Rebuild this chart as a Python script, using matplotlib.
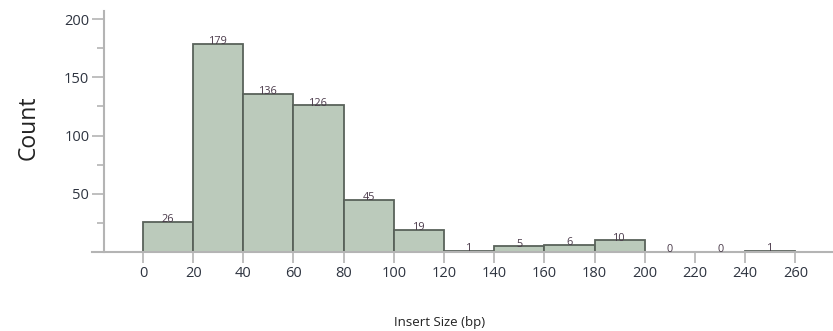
import numpy as np
import matplotlib
matplotlib.use("Agg")
from matplotlib import pyplot as plt
from matplotlib.ticker import MultipleLocator

# insert size histogram, 20 bp bins
bin_edges = [0, 20, 40, 60, 80, 100, 120, 140, 160, 180, 200, 220, 240, 260]
counts = [26, 179, 136, 126, 45, 19, 1, 5, 6, 10, 0, 0, 1]
xticks = [0, 20, 40, 60, 80, 100, 120, 140, 160, 180, 200, 220, 240, 260]
yticks = [50, 100, 150, 200]

plt.rcParams['font.family'] = ['Open Sans', 'DejaVu Sans']

fig = plt.figure(figsize=(8.33, 3.31), dpi=100)
ax = fig.add_axes([92/833, 79/331, 1 - 92/833, 241/331])

left = np.array(bin_edges[:-1])
widths = np.diff(bin_edges)
bars = ax.bar(left, counts, width=widths, align='edge',
              color='#bbcabb', edgecolor='#59625a', linewidth=1.3, zorder=2)

for x0, w, c in zip(left, widths, counts):
    ax.annotate(str(c), (x0 + w / 2, c), xytext=(0, -2.5), textcoords='offset points',
                ha='center', va='bottom', fontsize=7.8, color='#4a3a4a', zorder=3)

ax.set_xlim(-20.3, 275)
ax.set_ylim(0, 207)

axis_col = '#b4b4b4'
for s in ['top', 'right']:
    ax.spines[s].set_visible(False)
ax.spines['left'].set_position(('data', -15.5))
ax.spines['left'].set_color(axis_col)
ax.spines['bottom'].set_color(axis_col)
ax.spines['left'].set_linewidth(1.5)
ax.spines['bottom'].set_linewidth(1.5)

ax.set_xticks(xticks)
ax.set_yticks(yticks)
ax.yaxis.set_minor_locator(MultipleLocator(25))
ax.tick_params(axis='x', length=8, width=1.2, color=axis_col, labelsize=10.5,
               labelcolor='#2e3440', pad=2)
ax.tick_params(axis='y', which='major', length=8.6, width=1.2, color=axis_col,
               labelsize=10.5, labelcolor='#2e3440', pad=2)
ax.tick_params(axis='y', which='minor', length=5, width=1.2, color=axis_col)

fig.text(0.034, 0.613, 'Count', rotation=90, ha='center', va='center',
         fontsize=16.5, color='#222222')
fig.text(0.528, 0.026, 'Insert Size (bp)', ha='center', va='center',
         fontsize=9.5, color='#222222')

fig.savefig('out.png', dpi=100)
